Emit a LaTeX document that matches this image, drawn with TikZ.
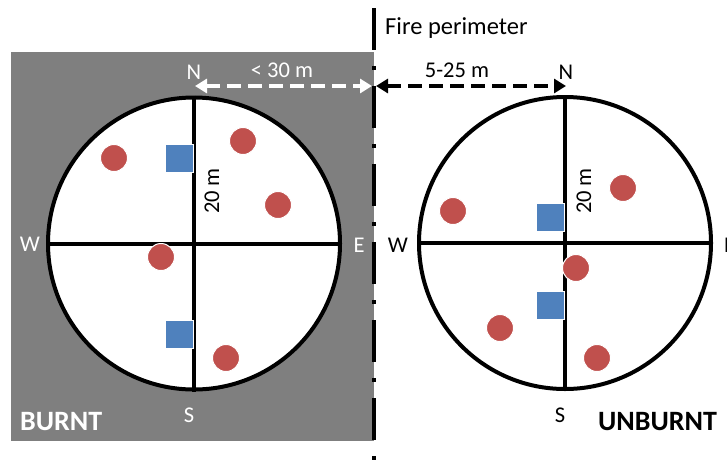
\documentclass[tikz,border=0pt]{standalone}
\usepackage{fontspec}
\setmainfont{Carlito}
\usetikzlibrary{arrows.meta}
\definecolor{burntgray}{HTML}{7F7F7F}
\definecolor{dotred}{HTML}{C0504D}
\definecolor{sqblue}{HTML}{4F81BD}
\tikzset{
  plotcircle/.style={circle, draw=black, fill=white, line width=4pt, minimum size=292pt, inner sep=0pt},
  axis/.style={line width=4pt},
  reddot/.style={circle, fill=dotred, draw=white, line width=1pt, minimum size=27pt, inner sep=0pt},
  bluesq/.style={rectangle, fill=sqblue, draw=white, line width=1pt, minimum size=28pt, inner sep=0pt},
  lbl/.style={font=\fontsize{22.5}{26}\selectfont, inner sep=0pt},
  biglbl/.style={font=\fontsize{28}{31}\selectfont\bfseries, inner sep=0pt, anchor=west},
  distarrow/.style={line width=4pt, dash pattern=on 14pt off 7pt, {Triangle[length=12pt,width=14pt]}-{Triangle[length=12pt,width=14pt]}},
  perimeter/.style={line width=4.5pt, dash pattern=on 42pt off 16pt on 4pt off 16pt}
}
\begin{document}
\begin{tikzpicture}[x=1pt,y=-1pt]
\clip (0,0) rectangle (727,461);
\fill[white] (0,0) rectangle (727,461);
% burnt area
\node[fill=burntgray, minimum width=363pt, minimum height=389pt, inner sep=0pt, anchor=north west] (burnt) at (11,52) {};
% plots
\node[plotcircle] (L) at (194,243.5) {};
\node[plotcircle] (R) at (565,243) {};
\draw[axis] (L.north) -- (L.south);
\draw[axis] (L.west) -- (L.east);
\draw[axis] (R.north) -- (R.south);
\draw[axis] (R.west) -- (R.east);
% left plot items
\node[reddot] (l1) at (114,158) {};
\node[reddot] (l2) at (243,141) {};
\node[reddot] (l3) at (278,205) {};
\node[reddot] (l4) at (161,257) {};
\node[reddot] (l5) at (226,358) {};
\node[bluesq] (ls1) at (179,158) {};
\node[bluesq] (ls2) at (179,334) {};
% right plot items
\node[reddot] (r1) at (453,211) {};
\node[reddot] (r2) at (623,188) {};
\node[reddot] (r3) at (576,268) {};
\node[reddot] (r4) at (500,328) {};
\node[reddot] (r5) at (597,358) {};
\node[bluesq] (rs1) at (550,217) {};
\node[bluesq] (rs2) at (550,305) {};
% 20 m labels
\node[lbl, rotate=90] (l20) at (212,191) {20 m};
\node[lbl, rotate=90] (r20) at (584,191) {20 m};
% compass labels
\node[lbl, text=white] (lN) at (194,72) {N};
\node[lbl, text=white] (lS) at (189,415) {S};
\node[lbl, text=white] (lW) at (30,244) {W};
\node[lbl, text=white] (lE) at (359,245) {E};
\node[lbl] (rN) at (566,72) {N};
\node[lbl] (rS) at (560,415) {S};
\node[lbl] (rW) at (398,245) {W};
\node[lbl, anchor=west] (rE) at (724,245) {E};
% fire perimeter
\coordinate (fpTop) at (374,8);
\coordinate (fpBot) at (374,470);
\draw[perimeter] (fpTop) -- (fpBot);
\node[font=\fontsize{24.5}{28}\selectfont, inner sep=0pt, anchor=west] (fpl) at (385,28) {Fire perimeter};
% distance arrows
\coordinate (wa1) at (195,86);
\coordinate (wa2) at (372,86);
\coordinate (ba1) at (376,86);
\coordinate (ba2) at (566,86);
\draw[distarrow, white] (wa1) -- (wa2);
\draw[distarrow, black] (ba1) -- (ba2);
\node[lbl, text=white] (d30) at (282,70) {< 30 m};
\node[lbl] (d525) at (457,70) {5-25 m};
% area labels
\node[biglbl, text=white] (bt) at (20,422) {BURNT};
\node[biglbl] (ubt) at (598,422) {UNBURNT};
\end{tikzpicture}
\end{document}
